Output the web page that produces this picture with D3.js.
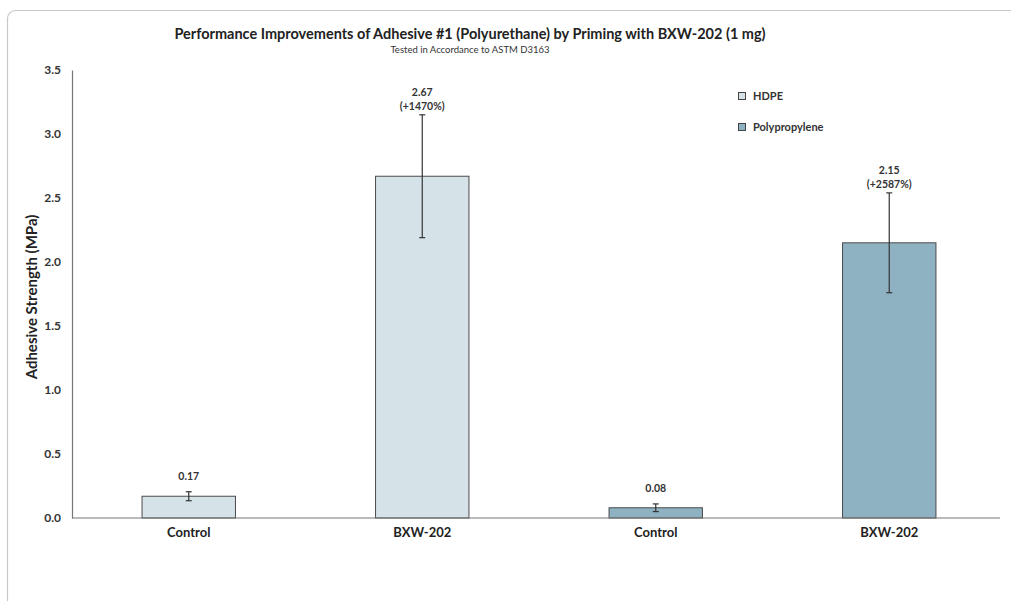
<!DOCTYPE html>
<html><head><meta charset="utf-8">
<script src="https://cdn.jsdelivr.net/npm/d3@7"></script>
<style>
body{margin:0;background:#fff;}
svg{display:block;font-family:Lato, "DejaVu Sans", sans-serif;}
</style></head>
<body><svg id="c" width="1011" height="601"></svg>
<script>
const categories = ["Control", "BXW-202", "Control ", "BXW-202 "];
const tickLabels = ["Control", "BXW-202", "Control", "BXW-202"];
const series = ["HDPE", "HDPE", "Polypropylene", "Polypropylene"];
const values = [0.17, 2.67, 0.08, 2.15];
const errors = [0.035, 0.48, 0.03, 0.39];
const valueLabels = [["0.17"], ["2.67", "(+1470%)"], ["0.08"], ["2.15", "(+2587%)"]];
const legendSeries = ["HDPE", "Polypropylene"];
const yTicks = [0, 0.5, 1.0, 1.5, 2.0, 2.5, 3.0, 3.5];

const colors = {"HDPE": "#d5e3e9", "Polypropylene": "#8fb2c3"};
const svg = d3.select("#c");
const F = "Lato, 'DejaVu Sans', sans-serif";

svg.append("rect").attr("x", 7.5).attr("y", 10.5).attr("width", 1020).attr("height", 610)
  .attr("rx", 8).attr("fill", "#fff").attr("stroke", "#c8c8c8").attr("stroke-width", 1.2);

const x = d3.scaleBand().domain(categories).range([72, 1006]).paddingInner(0.6).paddingOuter(0.3);
const y = d3.scaleLinear().domain([0, 3.5]).range([518, 70]);

// title
svg.append("text").attr("x", 470).attr("y", 39).attr("text-anchor", "middle")
  .attr("font-size", 14.5).attr("font-weight", 700).attr("fill", "#222")
  .text("Performance Improvements of Adhesive #1 (Polyurethane) by Priming with BXW-202 (1 mg)");
svg.append("text").attr("x", 470).attr("y", 52.5).attr("text-anchor", "middle")
  .attr("font-size", 9.5).attr("fill", "#333")
  .text("Tested in Accordance to ASTM D3163");

// y axis
const yAxis = d3.axisLeft(y).tickValues(yTicks).tickFormat(d3.format(".1f")).tickSize(0).tickPadding(11);
const gy = svg.append("g").attr("transform", "translate(72,0)").call(yAxis);
gy.select(".domain").attr("stroke", "#777").attr("stroke-width", 1.2);
gy.selectAll("text").attr("font-size", 12).attr("font-weight", 700).attr("fill", "#333")
  .attr("font-family", F);

svg.append("text").attr("transform", "translate(37,297) rotate(-90)").attr("text-anchor", "middle")
  .attr("font-size", 15).attr("font-weight", 700).attr("fill", "#222")
  .text("Adhesive Strength (MPa)");

// bars
const idx = d3.range(categories.length);
svg.append("g").selectAll("rect").data(idx).join("rect")
  .attr("x", i => x(categories[i])).attr("width", x.bandwidth())
  .attr("y", i => y(values[i])).attr("height", i => y(0) - y(values[i]))
  .attr("fill", i => colors[series[i]]).attr("stroke", "#4a4a4a").attr("stroke-width", 1);

// x axis
const xAxis = d3.axisBottom(x).tickSize(0).tickPadding(10).tickFormat((d, i) => tickLabels[i]);
const gx = svg.append("g").attr("transform", "translate(0,518)").call(xAxis);
gx.select(".domain").attr("stroke", "#777").attr("stroke-width", 1.2).attr("d", "M72,0H1000");
gx.selectAll("text").attr("font-size", 13).attr("font-weight", 700).attr("fill", "#222")
  .attr("font-family", F);

// error bars
const eg = svg.append("g").attr("stroke", "#333").attr("stroke-width", 1.2);
idx.forEach(i => {
  const cx = x(categories[i]) + x.bandwidth() / 2;
  const top = y(values[i] + errors[i]), bot = y(values[i] - errors[i]);
  eg.append("line").attr("x1", cx).attr("x2", cx).attr("y1", top).attr("y2", bot);
  eg.append("line").attr("x1", cx - 3).attr("x2", cx + 3).attr("y1", top).attr("y2", top);
  eg.append("line").attr("x1", cx - 3).attr("x2", cx + 3).attr("y1", bot).attr("y2", bot);
});

// value labels
idx.forEach(i => {
  const cx = x(categories[i]) + x.bandwidth() / 2;
  const top = y(values[i] + errors[i]);
  const lines = valueLabels[i];
  const gap = lines.length > 1 ? 5 : 12;
  lines.forEach((t, j) => {
    svg.append("text").attr("x", cx).attr("y", top - gap - (lines.length - 1 - j) * 14)
      .attr("text-anchor", "middle").attr("font-size", 10.5).attr("font-weight", 700).attr("fill", "#333")
      .text(t);
  });
});

// legend
legendSeries.forEach((s, i) => {
  const ly = 96 + i * 31;
  svg.append("rect").attr("x", 738.5).attr("y", ly - 3.5).attr("width", 7).attr("height", 7)
    .attr("fill", colors[s]).attr("stroke", "#444").attr("stroke-width", 1);
  svg.append("text").attr("x", 753).attr("y", ly + 4).attr("font-size", 11).attr("font-weight", 700)
    .attr("fill", "#333").text(s);
});
</script>
</body></html>
